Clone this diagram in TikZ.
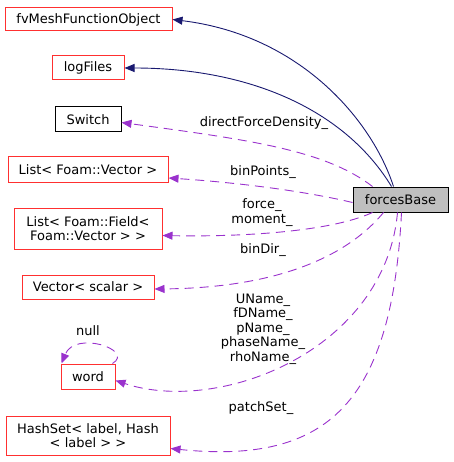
\documentclass[tikz,border=0pt]{standalone}
\usepackage{fontspec}
\setmainfont{DejaVu Sans}
\usetikzlibrary{arrows.meta}

\definecolor{inhblue}{HTML}{191970}
\definecolor{usepurple}{HTML}{9A32CD}
\definecolor{boxred}{HTML}{FF3030}

\begin{document}
\begin{tikzpicture}[
    x=1pt, y=-1pt,
    every node/.style={font=\fontsize{13}{14.5}\selectfont, inner sep=2pt},
    redbox/.style={draw=boxred, line width=1pt, fill=white, align=center},
    blackbox/.style={draw=black, line width=1pt, fill=white},
    mainbox/.style={draw=black, line width=1pt, fill=black!25},
    inh/.style={draw=inhblue, line width=0.9pt, -{Triangle[length=10pt,width=8pt]}},
    uses/.style={draw=usepurple, line width=0.9pt, dash pattern=on 9pt off 6pt, -{Triangle[length=10pt,width=8pt]}},
    elabel/.style={align=center, inner sep=0pt}
]
\useasboundingbox (0,0) rectangle (453,462);

% Main class
\node[mainbox, minimum width=95pt, minimum height=25pt] (forces) at (400.5,199.5) {forcesBase};

% Base classes
\node[redbox, minimum width=167pt, minimum height=23pt] (fvmesh) at (88.5,19.5) {fvMeshFunctionObject};
\node[redbox, minimum width=72pt, minimum height=24pt] (logfiles) at (88,68) {logFiles};

% Member types
\node[blackbox, minimum width=66pt, minimum height=25pt] (switch) at (88,119.5) {Switch};
\node[redbox, minimum width=160pt, minimum height=26pt] (listvec) at (88,170) {List< Foam::Vector >};
\node[redbox, minimum width=148pt, minimum height=41pt] (listfield) at (88,228.5) {List< Foam::Field<\\ Foam::Vector > >};
\node[redbox, minimum width=132pt, minimum height=24pt] (vecscalar) at (88,287) {Vector< scalar >};
\node[redbox, minimum width=54pt, minimum height=25pt] (word) at (88,376.5) {word};
\node[redbox, minimum width=164pt, minimum height=39pt] (hashset) at (88,435.5) {HashSet< label, Hash\\< label > >};

% Inheritance
\draw[inh] ([xshift=-7pt]forces.north) .. controls (372,120) and (300,35) .. (fvmesh.east);
\draw[inh] ([xshift=-9pt]forces.north) .. controls (345,110) and (250,68) .. (logfiles.east);

% Members
\draw[uses] ([xshift=-28pt]forces.north) .. controls (325,150) and (250,140) .. ([yshift=-3pt]switch.east);
\node[elabel] (lswitch) at (264,123) {directForceDensity\_};

\draw[uses] ([yshift=-3pt]forces.west) .. controls (300,190) and (230,182) .. ([yshift=-8pt]listvec.east);
\node[elabel] (llistvec) at (263,172) {binPoints\_};

\draw[uses] ([xshift=-28pt]forces.south) .. controls (330,232) and (240,237) .. ([yshift=-7pt]listfield.east);
\node[elabel] (llistfield) at (262,212.5) {force\_\\moment\_};

\draw[uses] ([xshift=-17pt]forces.south) .. controls (340,265) and (260,288) .. ([yshift=-2pt]vecscalar.east);
\node[elabel] (lvecscalar) at (263,250) {binDir\_};

\draw[uses] ([xshift=-3pt]forces.south) .. controls (385,350) and (220,415) .. ([yshift=-4pt]word.east);
\node[elabel] (lword) at (263,329) {UName\_\\fDName\_\\pName\_\\phaseName\_\\rhoName\_};

\draw[uses] ([xshift=1pt]forces.south) .. controls (392,400) and (330,465) .. ([yshift=-13pt]hashset.east);
\node[elabel] (lhashset) at (261,408) {patchSet\_};

% Self reference
\draw[uses] ([xshift=-3pt]word.north east) .. controls (135,350) and (75,330) .. ([xshift=1pt]word.north west);
\node[elabel] (lnull) at (88,331) {null};

\end{tikzpicture}
\end{document}
